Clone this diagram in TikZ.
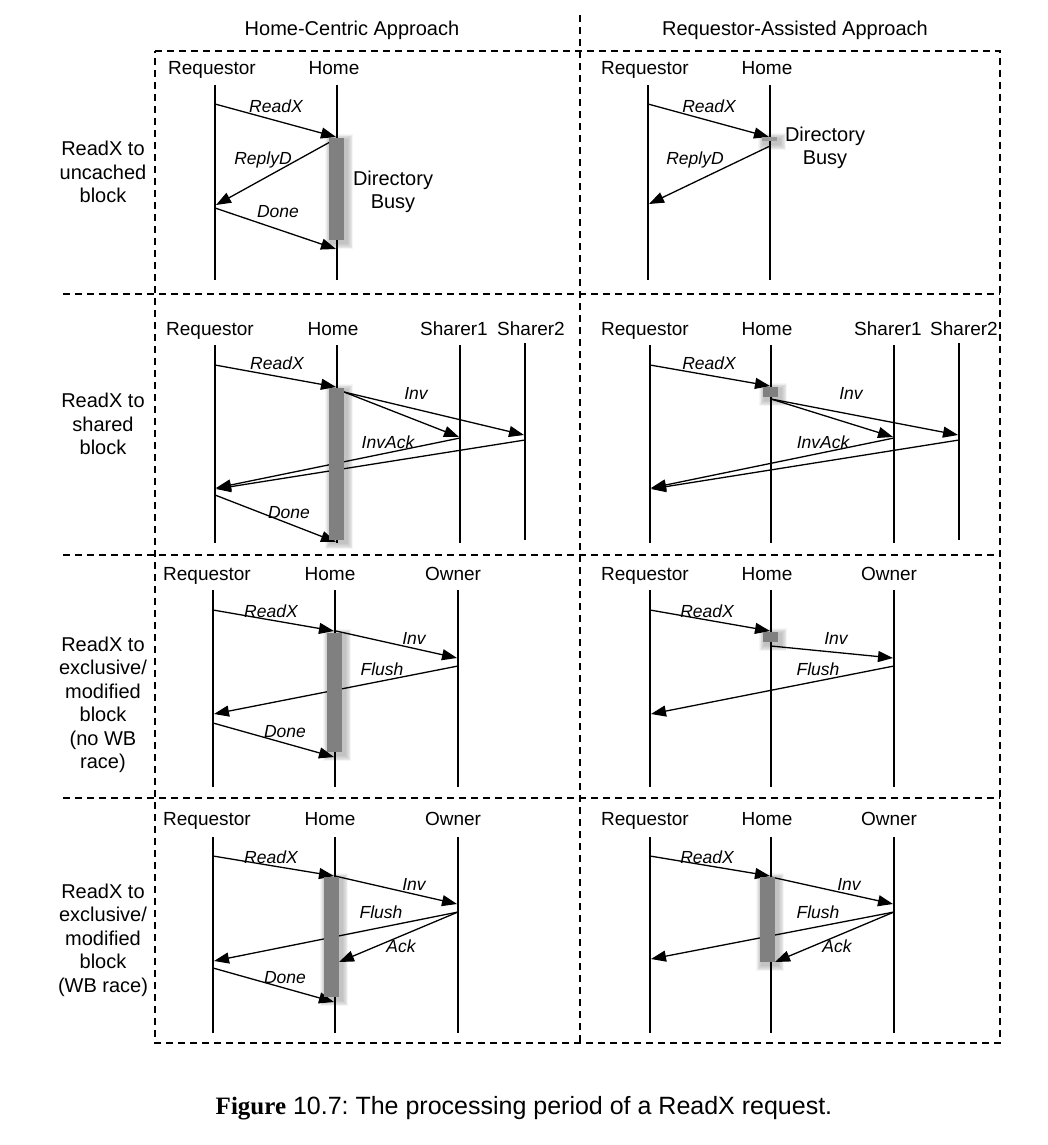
\documentclass[tikz,border=0pt]{standalone}
\usepackage{fontspec}
\setmainfont{Liberation Sans}
\newfontfamily\capserif{Liberation Serif}
\usetikzlibrary{arrows.meta}
\frenchspacing
\definecolor{barcol}{HTML}{808080}
\definecolor{markcol}{HTML}{9A9A9A}
\tikzset{
  frame/.style={line width=1.1pt, dash pattern=on 7pt off 5pt},
  life/.style={line width=1.3pt},
  msg/.style={line width=1.3pt, -{Triangle[length=15pt,width=11pt]}},
  mlabel/.style={font=\fontsize{17.5}{20}\selectfont\itshape, inner sep=0pt, text height=12.5pt, text depth=0pt},
  part/.style={font=\fontsize{19}{22}\selectfont, inner sep=0pt, text height=14pt, text depth=0pt},
  head/.style={font=\fontsize{20}{24}\selectfont, inner sep=0pt, text height=14.5pt, text depth=0pt},
  rowlab/.style={font=\fontsize{20}{23.5}\selectfont, align=center, inner sep=0pt},
  busytxt/.style={font=\fontsize{20}{23}\selectfont, align=center, inner sep=0pt},
  busybar/.style={fill=barcol, inner sep=0pt, outer sep=0pt},
  busymark/.style={fill=markcol, inner sep=0pt, outer sep=0pt},
}
% #1 name, #2 x-left, #3 y-top, #4 x-right, #5 y-bottom, #6 style
\newcommand\busyshape[6]{%
  \foreach \k in {1,...,7}{%
    \fill[black,opacity=0.035] ({#2+2-0.9*\k},{#3+2-0.9*\k}) rectangle ({#4+3+0.9*\k},{#5+3+0.9*\k});}
  \node[#6, minimum width={(#4-#2)*1pt}, minimum height={(#5-#3)*1pt}] (#1) at ({(#2+#4)/2},{(#3+#5)/2}) {};
}
\begin{document}
\begin{tikzpicture}[x=1pt,y=-1pt]
\fill[white] (0,0) rectangle (1047,1145);
\useasboundingbox (0,0) rectangle (1047,1145);

% ---------- frame ----------
\coordinate (fTL) at (155,51);
\coordinate (fTR) at (1000,51);
\coordinate (fBL) at (155,1043);
\coordinate (fBR) at (1000,1043);
\coordinate (dTop) at (580,15);
\coordinate (dBot) at (580,1043);
\draw[frame] (fTL) -- (fTR) -- (fBR) -- (fBL) -- cycle;
\draw[frame] (dTop) -- (dBot);
\coordinate (s1a) at (63,294);  \coordinate (s1b) at (1000,294);
\coordinate (s2a) at (63,555);  \coordinate (s2b) at (1000,555);
\coordinate (s3a) at (63,798);  \coordinate (s3b) at (1000,798);
\draw[frame] (s1a) -- (s1b);
\draw[frame] (s2a) -- (s2b);
\draw[frame] (s3a) -- (s3b);

% ---------- headers ----------
\node[head] (hL) at (352,28) {Home-Centric Approach};
\node[head] (hR) at (795,28) {Requestor-Assisted Approach};

% ---------- row labels ----------
\node[rowlab] (row1) at (103,172) {ReadX to\\uncached\\block};
\node[rowlab] (row2) at (103,424) {ReadX to\\shared\\block};
\node[rowlab] (row3) at (103,705) {ReadX to\\exclusive/\\modified\\block\\(no WB\\race)};
\node[rowlab] (row4) at (103,940) {ReadX to\\exclusive/\\modified\\block\\(WB race)};

% ================= ROW 1 LEFT =================
\node[part] (p1Lr) at (212,68) {Requestor};
\node[part] (p1Lh) at (334,68) {Home};
\coordinate (l1Lr0) at (215,85);  \coordinate (l1Lr1) at (215,280);
\coordinate (l1Lh0) at (337,85);  \coordinate (l1Lh1) at (337,280);
\draw[life] (l1Lr0) -- (l1Lr1);
\draw[life] (l1Lh0) -- (l1Lh1);
\coordinate (a1La) at (215,104); \coordinate (a1Lb) at (336,137);
\coordinate (b1La) at (330,142); \coordinate (b1Lb) at (216,205);
\coordinate (c1La) at (215,208); \coordinate (c1Lb) at (336,249);
\draw[msg] (a1La) -- (a1Lb);
\draw[msg] (b1La) -- (b1Lb);
\draw[msg] (c1La) -- (c1Lb);
\busyshape{bar1L}{329}{138}{344}{240}{busybar}
\node[mlabel] (t1La) at (276,106) {ReadX};
\node[mlabel] (t1Lb) at (263,158) {ReplyD};
\node[mlabel] (t1Lc) at (278,211) {Done};
\node[busytxt] (d1L) at (393,192) {Directory\\Busy};

% ================= ROW 1 RIGHT =================
\node[part] (p1Rr) at (645,68) {Requestor};
\node[part] (p1Rh) at (767,68) {Home};
\coordinate (l1Rr0) at (648,85);  \coordinate (l1Rr1) at (648,280);
\coordinate (l1Rh0) at (770,85);  \coordinate (l1Rh1) at (770,280);
\draw[life] (l1Rr0) -- (l1Rr1);
\draw[life] (l1Rh0) -- (l1Rh1);
\coordinate (a1Ra) at (648,104); \coordinate (a1Rb) at (769,137);
\coordinate (b1Ra) at (770,146); \coordinate (b1Rb) at (649,204);
\draw[msg] (a1Ra) -- (a1Rb);
\draw[msg] (b1Ra) -- (b1Rb);
\busyshape{bar1R}{762}{137}{777}{141}{busymark}
\node[mlabel] (t1Ra) at (709,106) {ReadX};
\node[mlabel] (t1Rb) at (695,158) {ReplyD};
\node[busytxt] (d1R) at (825,148) {Directory\\Busy};

% ================= ROW 2 LEFT =================
\node[part] (p2Lr) at (210,328) {Requestor};
\node[part] (p2Lh) at (333,328) {Home};
\node[part] (p2Ls) at (454,328) {Sharer1};
\node[part] (p2Lt) at (531,328) {Sharer2};
\coordinate (l2Lr0) at (215,345);  \coordinate (l2Lr1) at (215,543);
\coordinate (l2Lh0) at (337,345);  \coordinate (l2Lh1) at (337,543);
\coordinate (l2Ls0) at (460,345);  \coordinate (l2Ls1) at (460,543);
\coordinate (l2Lt0) at (525,343);  \coordinate (l2Lt1) at (525,540);
\draw[life] (l2Lr0) -- (l2Lr1);
\draw[life] (l2Lh0) -- (l2Lh1);
\draw[life] (l2Ls0) -- (l2Ls1);
\draw[life] (l2Lt0) -- (l2Lt1);
\coordinate (a2La) at (215,365); \coordinate (a2Lb) at (336,387);
\coordinate (b2La) at (344,392); \coordinate (b2Lb) at (459,437);
\coordinate (b2Lc) at (524,435);
\coordinate (c2La) at (460,438); \coordinate (c2Lb) at (216,488);
\coordinate (c2Lc) at (525,440); \coordinate (c2Ld) at (216,489);
\coordinate (e2La) at (215,495); \coordinate (e2Lb) at (336,542);
\draw[msg] (a2La) -- (a2Lb);
\draw[msg] (b2La) -- (b2Lb);
\draw[msg] (b2La) -- (b2Lc);
\draw[msg] (c2La) -- (c2Lb);
\draw[msg] (c2Lc) -- (c2Ld);
\draw[msg] (e2La) -- (e2Lb);
\busyshape{bar2L}{329}{388}{344}{540}{busybar}
\node[mlabel] (t2La) at (277,363) {ReadX};
\node[mlabel] (t2Lb) at (416,393) {Inv};
\node[mlabel] (t2Lc) at (388,442) {InvAck};
\node[mlabel] (t2Ld) at (289,512) {Done};

% ================= ROW 2 RIGHT =================
\node[part] (p2Rr) at (645,328) {Requestor};
\node[part] (p2Rh) at (767,328) {Home};
\node[part] (p2Rs) at (888,328) {Sharer1};
\node[part] (p2Rt) at (964,328) {Sharer2};
\coordinate (l2Rr0) at (650,345);  \coordinate (l2Rr1) at (650,543);
\coordinate (l2Rh0) at (771,345);  \coordinate (l2Rh1) at (771,543);
\coordinate (l2Rs0) at (894,345);  \coordinate (l2Rs1) at (894,543);
\coordinate (l2Rt0) at (959,343);  \coordinate (l2Rt1) at (959,540);
\draw[life] (l2Rr0) -- (l2Rr1);
\draw[life] (l2Rh0) -- (l2Rh1);
\draw[life] (l2Rs0) -- (l2Rs1);
\draw[life] (l2Rt0) -- (l2Rt1);
\coordinate (a2Ra) at (650,365); \coordinate (a2Rb) at (770,386);
\coordinate (b2Ra) at (771,399); \coordinate (b2Rb) at (893,437);
\coordinate (b2Rc) at (958,435);
\coordinate (c2Ra) at (894,438); \coordinate (c2Rb) at (651,488);
\coordinate (c2Rc) at (959,440); \coordinate (c2Rd) at (651,489);
\draw[msg] (a2Ra) -- (a2Rb);
\draw[msg] (b2Ra) -- (b2Rb);
\draw[msg] (b2Ra) -- (b2Rc);
\draw[msg] (c2Ra) -- (c2Rb);
\draw[msg] (c2Rc) -- (c2Rd);
\busyshape{bar2R}{763}{387}{778}{397}{busybar}
\node[mlabel] (t2Ra) at (709,363) {ReadX};
\node[mlabel] (t2Rb) at (851,393) {Inv};
\node[mlabel] (t2Rc) at (823,442) {InvAck};

% ================= ROW 3 LEFT =================
\node[part] (p3Lr) at (207,573) {Requestor};
\node[part] (p3Lh) at (330,573) {Home};
\node[part] (p3Lo) at (453,573) {Owner};
\coordinate (l3Lr0) at (213,590);  \coordinate (l3Lr1) at (213,787);
\coordinate (l3Lh0) at (335,590);  \coordinate (l3Lh1) at (335,787);
\coordinate (l3Lo0) at (458,590);  \coordinate (l3Lo1) at (458,787);
\draw[life] (l3Lr0) -- (l3Lr1);
\draw[life] (l3Lh0) -- (l3Lh1);
\draw[life] (l3Lo0) -- (l3Lo1);
\coordinate (a3La) at (213,610); \coordinate (a3Lb) at (334,631);
\coordinate (b3La) at (336,631); \coordinate (b3Lb) at (457,658);
\coordinate (c3La) at (458,666); \coordinate (c3Lb) at (214,714);
\coordinate (e3La) at (213,723); \coordinate (e3Lb) at (334,757);
\draw[msg] (a3La) -- (a3Lb);
\draw[msg] (b3La) -- (b3Lb);
\draw[msg] (c3La) -- (c3Lb);
\draw[msg] (e3La) -- (e3Lb);
\busyshape{bar3L}{327}{633}{342}{752}{busybar}
\node[mlabel] (t3La) at (271,611) {ReadX};
\node[mlabel] (t3Lb) at (414,638) {Inv};
\node[mlabel] (t3Lc) at (382,669) {Flush};
\node[mlabel] (t3Ld) at (285,731) {Done};

% ================= ROW 3 RIGHT =================
\node[part] (p3Rr) at (645,573) {Requestor};
\node[part] (p3Rh) at (767,573) {Home};
\node[part] (p3Ro) at (889,573) {Owner};
\coordinate (l3Rr0) at (650,590);  \coordinate (l3Rr1) at (650,787);
\coordinate (l3Rh0) at (771,590);  \coordinate (l3Rh1) at (771,787);
\coordinate (l3Ro0) at (894,590);  \coordinate (l3Ro1) at (894,787);
\draw[life] (l3Rr0) -- (l3Rr1);
\draw[life] (l3Rh0) -- (l3Rh1);
\draw[life] (l3Ro0) -- (l3Ro1);
\coordinate (a3Ra) at (650,610); \coordinate (a3Rb) at (770,631);
\coordinate (b3Ra) at (771,646); \coordinate (b3Rb) at (893,658);
\coordinate (c3Ra) at (894,666); \coordinate (c3Rb) at (651,714);
\draw[msg] (a3Ra) -- (a3Rb);
\draw[msg] (b3Ra) -- (b3Rb);
\draw[msg] (c3Ra) -- (c3Rb);
\busyshape{bar3R}{763}{632}{778}{642}{busybar}
\node[mlabel] (t3Ra) at (707,611) {ReadX};
\node[mlabel] (t3Rb) at (836,638) {Inv};
\node[mlabel] (t3Rc) at (818,669) {Flush};

% ================= ROW 4 LEFT =================
\node[part] (p4Lr) at (207,818) {Requestor};
\node[part] (p4Lh) at (330,818) {Home};
\node[part] (p4Lo) at (453,818) {Owner};
\coordinate (l4Lr0) at (213,837);  \coordinate (l4Lr1) at (213,1033);
\coordinate (l4Lh0) at (335,837);  \coordinate (l4Lh1) at (335,1033);
\coordinate (l4Lo0) at (458,837);  \coordinate (l4Lo1) at (458,1033);
\draw[life] (l4Lr0) -- (l4Lr1);
\draw[life] (l4Lh0) -- (l4Lh1);
\draw[life] (l4Lo0) -- (l4Lo1);
\coordinate (a4La) at (213,856); \coordinate (a4Lb) at (334,876);
\coordinate (b4La) at (335,876); \coordinate (b4Lb) at (457,904);
\coordinate (c4La) at (458,912); \coordinate (c4Lb) at (214,961);
\coordinate (k4Lb) at (339,962);
\coordinate (e4La) at (213,968); \coordinate (e4Lb) at (334,1002);
\draw[msg] (a4La) -- (a4Lb);
\draw[msg] (b4La) -- (b4Lb);
\draw[msg] (c4La) -- (c4Lb);
\draw[msg] (e4La) -- (e4Lb);
\busyshape{bar4L}{324}{877}{339}{997}{busybar}
\draw[msg] (c4La) -- (k4Lb);
\node[mlabel] (t4La) at (271,857) {ReadX};
\node[mlabel] (t4Lb) at (414,884) {Inv};
\node[mlabel] (t4Lc) at (381,912) {Flush};
\node[mlabel] (t4Ld) at (401,946) {Ack};
\node[mlabel] (t4Le) at (285,977) {Done};

% ================= ROW 4 RIGHT =================
\node[part] (p4Rr) at (645,818) {Requestor};
\node[part] (p4Rh) at (767,818) {Home};
\node[part] (p4Ro) at (889,818) {Owner};
\coordinate (l4Rr0) at (650,837);  \coordinate (l4Rr1) at (650,1033);
\coordinate (l4Rh0) at (771,837);  \coordinate (l4Rh1) at (771,1033);
\coordinate (l4Ro0) at (894,837);  \coordinate (l4Ro1) at (894,1033);
\draw[life] (l4Rr0) -- (l4Rr1);
\draw[life] (l4Rh0) -- (l4Rh1);
\draw[life] (l4Ro0) -- (l4Ro1);
\coordinate (a4Ra) at (650,856); \coordinate (a4Rb) at (770,876);
\coordinate (b4Ra) at (771,877); \coordinate (b4Rb) at (893,904);
\coordinate (c4Ra) at (894,912); \coordinate (c4Rb) at (651,959);
\coordinate (k4Rb) at (775,962);
\draw[msg] (a4Ra) -- (a4Rb);
\draw[msg] (b4Ra) -- (b4Rb);
\draw[msg] (c4Ra) -- (c4Rb);
\busyshape{bar4R}{760}{877}{775}{962}{busybar}
\draw[msg] (c4Ra) -- (k4Rb);
\node[mlabel] (t4Ra) at (707,857) {ReadX};
\node[mlabel] (t4Rb) at (849,884) {Inv};
\node[mlabel] (t4Rc) at (818,912) {Flush};
\node[mlabel] (t4Rd) at (837,946) {Ack};

% ---------- caption ----------
\node[inner sep=0pt, font=\fontsize{25}{28}\selectfont] (cap) at (524,1108)
  {{\capserif\bfseries\fontsize{25}{28}\selectfont Figure} 10.7: The processing period of a ReadX request.};
\end{tikzpicture}
\end{document}
